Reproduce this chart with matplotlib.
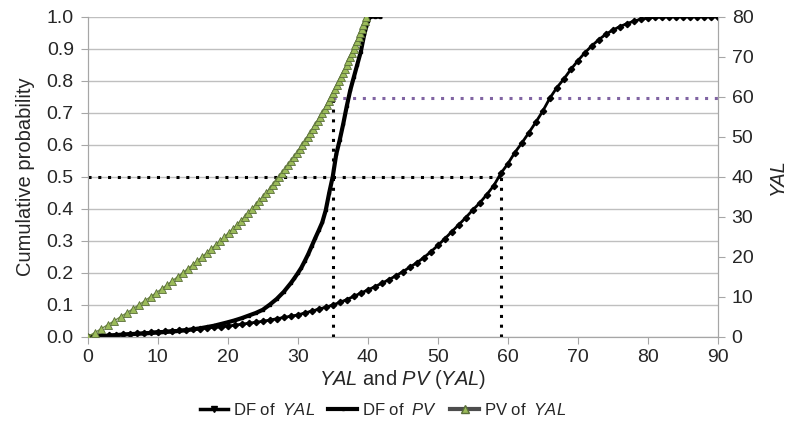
import numpy as np
import matplotlib
matplotlib.use("Agg")
import matplotlib.pyplot as plt
from matplotlib.lines import Line2D

plt.rcParams["font.family"] = ["Liberation Sans", "DejaVu Sans"]
plt.rcParams["mathtext.fontset"] = "custom"
plt.rcParams["mathtext.it"] = "Liberation Sans:italic"
plt.rcParams["mathtext.rm"] = "Liberation Sans"

# DF of YAL: cumulative probability at YAL = 0..90
yal = list(range(0, 91))
df_yal = [0.000, 0.001, 0.003, 0.004, 0.006, 0.007, 0.009, 0.010, 0.012, 0.014,
          0.016, 0.017, 0.019, 0.020, 0.022, 0.024, 0.025, 0.027, 0.029, 0.031,
          0.033, 0.036, 0.039, 0.042, 0.045, 0.048, 0.052, 0.056, 0.060, 0.064,
          0.068, 0.074, 0.080, 0.086, 0.092, 0.099, 0.107, 0.116, 0.126, 0.136,
          0.146, 0.156, 0.167, 0.178, 0.190, 0.203, 0.217, 0.231, 0.247, 0.265,
          0.285, 0.306, 0.328, 0.350, 0.372, 0.396, 0.418, 0.444, 0.472, 0.510,
          0.540, 0.575, 0.605, 0.637, 0.670, 0.705, 0.745, 0.778, 0.805, 0.835,
          0.862, 0.887, 0.909, 0.928, 0.945, 0.958, 0.969, 0.978, 0.986, 0.992,
          0.996, 0.998, 0.999, 1.000, 1.000, 1.000, 1.000, 1.000, 1.000, 1.000,
          1.000]

# DF of PV
pv_x = [0, 2, 4, 6, 8, 10, 12, 14, 16, 18, 20, 21, 22, 23, 24, 25, 26, 27, 28,
        29, 29.5, 30, 30.5, 31, 31.5, 32, 32.5, 33, 33.5, 34, 34.5, 35, 35.5,
        36, 36.5, 37, 37.5, 38, 38.5, 39, 39.5, 40, 40.3, 41, 41.8]
df_pv = [0.000, 0.002, 0.005, 0.008, 0.010, 0.013, 0.016, 0.020, 0.026, 0.034,
         0.045, 0.051, 0.058, 0.066, 0.074, 0.084, 0.100, 0.118, 0.140, 0.167,
         0.182, 0.198, 0.215, 0.236, 0.258, 0.283, 0.308, 0.332, 0.357, 0.395,
         0.450, 0.500, 0.570, 0.615, 0.665, 0.720, 0.770, 0.810, 0.850, 0.890,
         0.945, 0.985, 1.000, 1.000, 1.000]

# PV of YAL (x = PV, right axis = YAL 0..80)
yal_pv = list(range(0, 81))
pv_of_yal = [0.00, 0.98, 1.94, 2.88, 3.81, 4.71, 5.60, 6.47, 7.33, 8.16,
             8.98, 9.79, 10.58, 11.35, 12.11, 12.85, 13.58, 14.29, 14.99, 15.68,
             16.35, 17.01, 17.66, 18.29, 18.91, 19.52, 20.12, 20.71, 21.28, 21.84,
             22.40, 22.94, 23.47, 23.99, 24.50, 25.00, 25.49, 25.97, 26.44, 26.90,
             27.36, 27.80, 28.23, 28.66, 29.08, 29.49, 29.89, 30.29, 30.67, 31.05,
             31.42, 31.79, 32.14, 32.50, 32.84, 33.17, 33.50, 33.83, 34.15, 34.46,
             34.76, 35.06, 35.35, 35.64, 35.92, 36.20, 36.47, 36.73, 36.99, 37.25,
             37.50, 37.74, 37.98, 38.22, 38.45, 38.68, 38.90, 39.12, 39.33, 39.54,
             39.74]

median_yal = 59.0
median_pv = 35.0
yal_at_median_pv = 59.6  # on the right axis

fig = plt.figure(figsize=(7.86, 4.45), dpi=100)
ax = fig.add_axes([0.1116, 0.2434, 0.8016, 0.7191])
ax2 = ax.twinx()

grid_c = "#BFBFBF"
spine_c = "#A6A6A6"
txt_c = "#262626"

dots = (0, (1, 2.2))
ax.plot([0, median_yal], [0.5, 0.5], color="black", lw=2.2, ls=dots, zorder=3)
ax.plot([median_yal, median_yal], [0, 0.5], color="black", lw=2.2, ls=dots, zorder=3)
ax.plot([median_pv, median_pv], [0, yal_at_median_pv / 80], color="black", lw=2.2,
        ls=dots, zorder=3)
ax.plot([median_pv, 90], [yal_at_median_pv / 80] * 2, color="#8064A2", lw=2.2,
        ls=dots, zorder=3)

ax.plot(yal, df_yal, color="black", lw=2, marker="D", ms=3.2, zorder=4)
ax.plot(pv_x, df_pv, color="black", lw=3, marker="s", ms=2, zorder=4)
ax2.plot(pv_of_yal, yal_pv, color="#6E8B3D", lw=1, marker="^", ms=6,
         mfc="#9BBB59", mec="#5A6E3A", mew=0.6, zorder=5)

ax.set_xlim(0, 90)
ax.set_ylim(0, 1)
ax2.set_ylim(0, 80)
ax.set_xticks(np.arange(0, 91, 10))
ax.set_yticks(np.arange(0, 1.01, 0.1))
ax.set_yticklabels([f"{v:.1f}" for v in np.arange(0, 1.01, 0.1)])
ax2.set_yticks(np.arange(0, 81, 10))
ax.grid(axis="y", color=grid_c, lw=1)
ax.set_axisbelow(True)

for a in (ax, ax2):
    a.spines["top"].set_visible(False)
    for s in ("left", "right", "bottom"):
        a.spines[s].set_color(spine_c)
    a.tick_params(colors=spine_c, labelcolor=txt_c, labelsize=14, length=5,
                  direction="out", pad=5)
ax.tick_params(axis="x", pad=4)

ax.set_xlabel(r"$\it{YAL}$ and $\it{PV}$ ($\it{YAL}$)", fontsize=14.5, color=txt_c,
              labelpad=1)
ax.set_ylabel("Cumulative probability", fontsize=14.5, color=txt_c, labelpad=8)
ax2.set_ylabel("YAL", fontsize=14.5, color=txt_c, style="italic", labelpad=10)

handles = [
    Line2D([], [], color="black", lw=2.5, marker="v", ms=5),
    Line2D([], [], color="black", lw=3, marker="s", ms=2),
    Line2D([], [], color="#4D4D4D", lw=3, marker="^", ms=6, mfc="#9BBB59",
           mec="#5A6E3A"),
]
labels = [r"DF of  $\it{YAL}$", r"DF of  $\it{PV}$", r"PV of  $\it{YAL}$"]
fig.legend(handles, labels, loc="center", bbox_to_anchor=(0.487, 0.078), ncol=3,
           frameon=False, fontsize=12, handlelength=1.7, handletextpad=0.3,
           columnspacing=0.8, labelcolor=txt_c)

fig.savefig("out.png", dpi=100)
